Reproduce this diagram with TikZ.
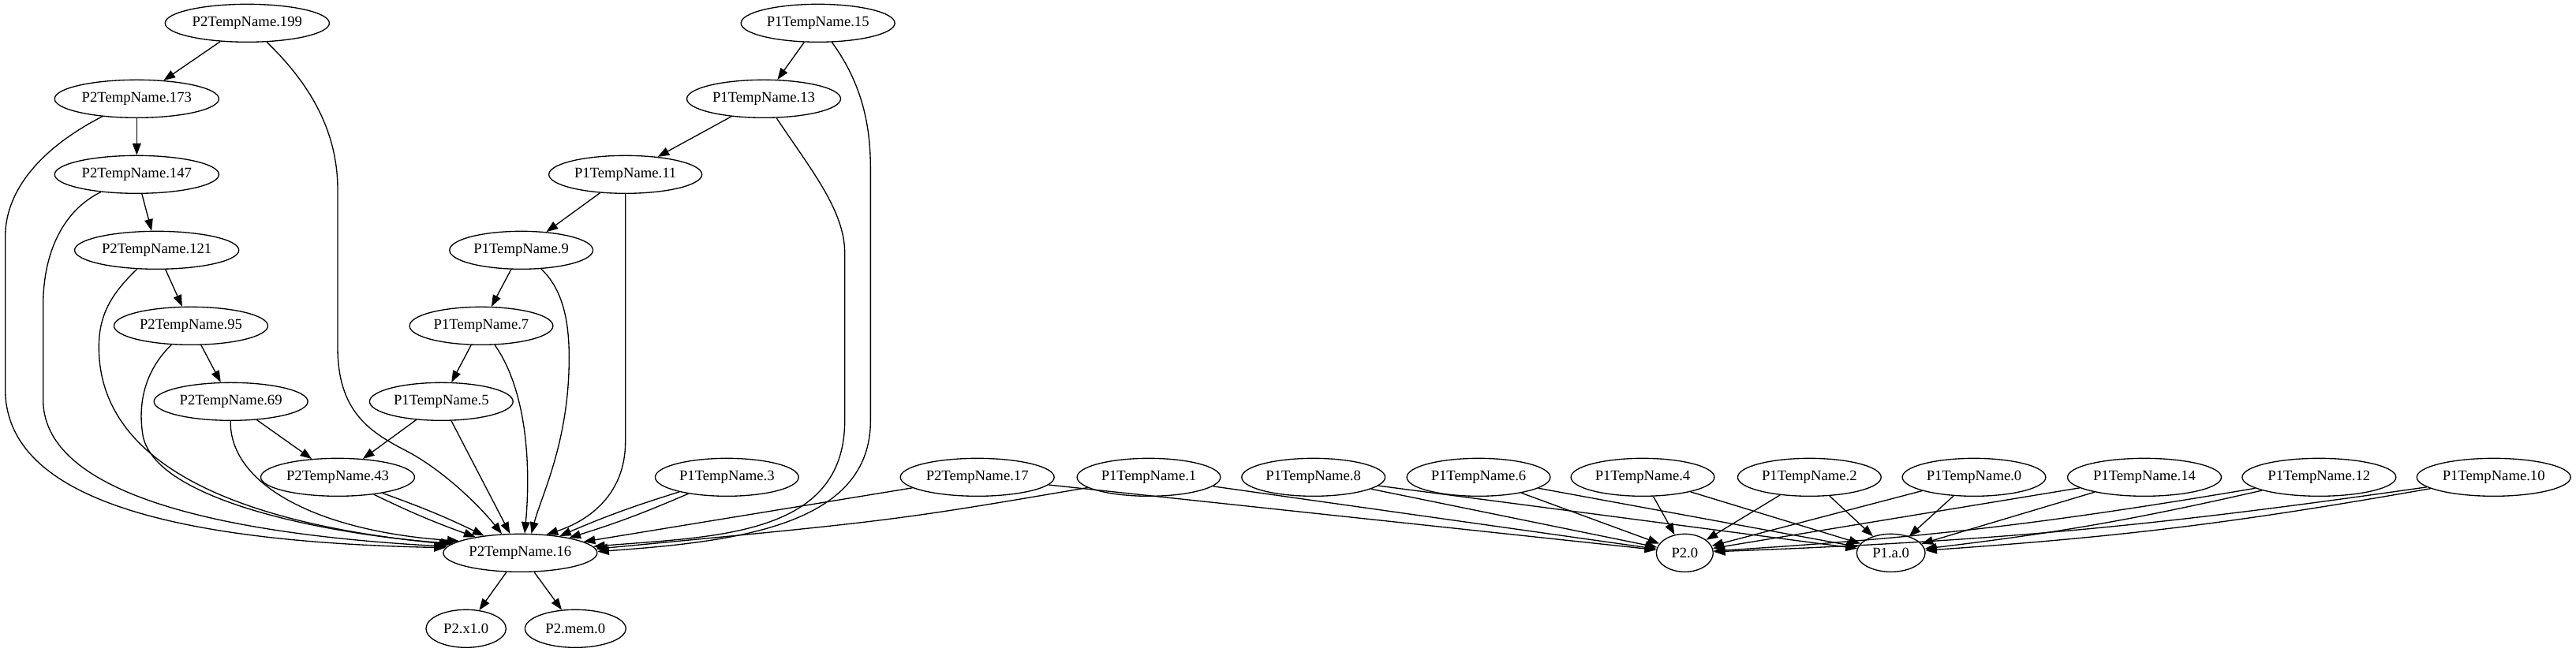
\documentclass[tikz,border=0pt]{standalone}
\usepackage{fontspec}
\setmainfont{Liberation Serif}
\usepackage{tikz}
\usetikzlibrary{arrows.meta}
\usetikzlibrary{shapes.geometric}
\tikzset{varnode/.style = {ellipse, draw, line width = 1pt, minimum height = 36pt, minimum width = 54pt, inner xsep = 3pt, inner ysep = 0pt, font = \fontsize{14pt}{16pt}\selectfont}}
\tikzset{sinknode/.style = {varnode, inner xsep = 5.5pt}}
\tikzset{dep/.style = {line width = 1pt, -{Triangle[length = 11pt, width = 8pt]}}}

\begin{document}
\begin{tikzpicture}[x = 1pt, y = 1pt]
	\useasboundingbox (0, 0) rectangle (2448.75, 620.25);

	%% Rank 1
	\node[varnode] (p2n199) at (235, 598.25) {P2TempName.199};
	\node[varnode] (p1n15) at (777.5, 598.25) {P1TempName.15};

	%% Rank 2
	\node[varnode] (p2n173) at (130, 526.25) {P2TempName.173};
	\node[varnode] (p1n13) at (726, 526.25) {P1TempName.13};

	%% Rank 3
	\node[varnode] (p2n147) at (130, 454.25) {P2TempName.147};
	\node[varnode] (p1n11) at (594.5, 454.25) {P1TempName.11};

	%% Rank 4
	\node[varnode] (p2n121) at (149, 382.25) {P2TempName.121};
	\node[varnode] (p1n9) at (495.5, 382.25) {P1TempName.9};

	%% Rank 5
	\node[varnode] (p2n95) at (181.5, 310.25) {P2TempName.95};
	\node[varnode] (p1n7) at (457.5, 310.25) {P1TempName.7};

	%% Rank 6
	\node[varnode] (p2n69) at (219.5, 238.25) {P2TempName.69};
	\node[varnode] (p1n5) at (419.5, 238.25) {P1TempName.5};

	%% Rank 7
	\node[varnode] (p2n43) at (321, 166.25) {P2TempName.43};
	\node[varnode] (p1n3) at (691, 166.25) {P1TempName.3};
	\node[varnode] (p2n17) at (929, 166.25) {P2TempName.17};
	\node[varnode] (p1n1) at (1092, 166.25) {P1TempName.1};
	\node[varnode] (p1n8) at (1248.5, 166.25) {P1TempName.8};
	\node[varnode] (p1n6) at (1405.5, 166.25) {P1TempName.6};
	\node[varnode] (p1n4) at (1561.5, 166.25) {P1TempName.4};
	\node[varnode] (p1n2) at (1720, 166.25) {P1TempName.2};
	\node[varnode] (p1n0) at (1876.5, 166.25) {P1TempName.0};
	\node[varnode] (p1n14) at (2038.5, 166.25) {P1TempName.14};
	\node[varnode] (p1n12) at (2204.5, 166.25) {P1TempName.12};
	\node[varnode] (p1n10) at (2370.5, 166.25) {P1TempName.10};

	%% Rank 8
	\node[varnode] (p2n16) at (494.5, 94.25) {P2TempName.16};
	\node[sinknode] (p2zero) at (1601.5, 94.25) {P2.0};
	\node[sinknode] (p1a) at (1797.5, 94.25) {P1.a.0};

	%% Rank 9
	\node[sinknode] (p2x1) at (443, 22.25) {P2.x1.0};
	\node[sinknode] (p2mem) at (547, 22.25) {P2.mem.0};

	%% P2 chain
	\draw[dep] (p2n199) -- (p2n173);
	\draw[dep] (p2n173) -- (p2n147);
	\draw[dep] (p2n147) -- (p2n121);
	\draw[dep] (p2n121) -- (p2n95);
	\draw[dep] (p2n95) -- (p2n69);
	\draw[dep] (p2n69) -- (p2n43);

	%% P1 chain
	\draw[dep] (p1n15) -- (p1n13);
	\draw[dep] (p1n13) -- (p1n11);
	\draw[dep] (p1n11) -- (p1n9);
	\draw[dep] (p1n9) -- (p1n7);
	\draw[dep] (p1n7) -- (p1n5);
	\draw[dep] (p1n5) -- (p2n43);

	%% Into P2TempName.16
	\draw[dep] (p2n199) .. controls (290, 545) and (321, 500) .. (321, 440) -- (321, 290) .. controls (321, 230) and (350, 210) .. (385, 192) .. controls (420, 174) and (455, 140) .. (p2n16.134);
	\draw[dep] (p2n173) .. controls (40, 480) and (5, 440) .. (5, 395) -- (5, 250) .. controls (5, 150) and (150, 105) .. (p2n16.176);
	\draw[dep] (p2n147) .. controls (60, 420) and (41, 380) .. (41, 330) -- (41, 240) .. controls (41, 140) and (250, 110) .. (p2n16.175);
	\draw[dep] (p2n121) .. controls (105, 340) and (94, 320) .. (94, 290) .. controls (94, 150) and (300, 115) .. (p2n16.173);
	\draw[dep] (p2n95) .. controls (140, 270) and (130, 240) .. (136, 205) .. controls (150, 140) and (330, 110) .. (p2n16.172);
	\draw[dep] (p2n69) .. controls (218, 160) and (300, 115) .. (p2n16.169);
	\draw[dep] (p2n43) to[bend left = 3] (p2n16);
	\draw[dep] (p2n43) to[bend right = 3] (p2n16);
	\draw[dep] (p1n5) -- (p2n16.118);
	\draw[dep] (p1n7) .. controls (500, 250) and (505, 180) .. (p2n16.77);
	\draw[dep] (p1n9) .. controls (535, 345) and (541, 315) .. (541, 280) .. controls (541, 200) and (515, 150) .. (p2n16.60);
	\draw[dep] (p1n11) -- (594.5, 200) .. controls (594.5, 150) and (560, 125) .. (p2n16.35);
	\draw[dep] (p1n13) .. controls (770, 460) and (803, 420) .. (803, 380) -- (803, 220) .. controls (803, 110) and (680, 110) .. (p2n16.5);
	\draw[dep] (p1n15) .. controls (820, 540) and (827.5, 500) .. (827.5, 460) -- (827.5, 220) .. controls (827.5, 120) and (700, 105) .. (p2n16.1);
	\draw[dep] (p1n3) to[bend left = 3] (p2n16);
	\draw[dep] (p1n3) to[bend right = 3] (p2n16);
	\draw[dep] (p2n17) -- (p2n16.10);
	\draw[dep] (p1n1) .. controls (850, 125) .. (p2n16.3);

	%% Out of P2TempName.16
	\draw[dep] (p2n16) -- (p2x1);
	\draw[dep] (p2n16) -- (p2mem);

	%% Into P2.0 and P1.a.0
	\draw[dep] (p2n17) -- (p2zero);
	\draw[dep] (p1n1) -- (p2zero);
	\draw[dep] (p1n8) -- (p2zero);
	\draw[dep] (p1n8) -- (p1a);
	\draw[dep] (p1n6) -- (p2zero);
	\draw[dep] (p1n6) -- (p1a);
	\draw[dep] (p1n4) -- (p2zero);
	\draw[dep] (p1n4) -- (p1a);
	\draw[dep] (p1n2) -- (p2zero);
	\draw[dep] (p1n2) -- (p1a);
	\draw[dep] (p1n0) -- (p2zero);
	\draw[dep] (p1n0) -- (p1a);
	\draw[dep] (p1n14) -- (p2zero);
	\draw[dep] (p1n14) -- (p1a);
	\draw[dep] (p1n12) to[bend left = 3] (p2zero);
	\draw[dep] (p1n12) to[bend left = 3] (p1a);
	\draw[dep] (p1n10) to[bend left = 3] (p2zero);
	\draw[dep] (p1n10) to[bend left = 3] (p1a);
\end{tikzpicture}
\end{document}
